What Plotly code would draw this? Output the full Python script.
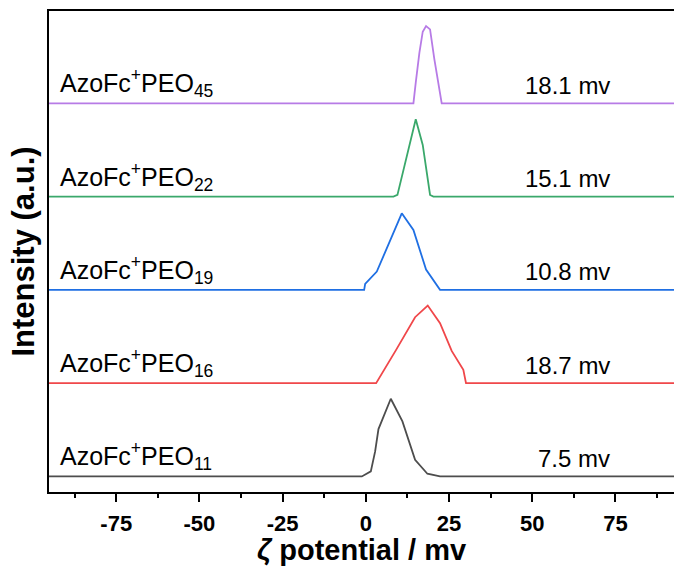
import plotly.graph_objects as go

# sample names and zeta potentials
names = ["AzoFc<sup>+</sup>PEO<sub>11</sub>", "AzoFc<sup>+</sup>PEO<sub>16</sub>",
         "AzoFc<sup>+</sup>PEO<sub>19</sub>", "AzoFc<sup>+</sup>PEO<sub>22</sub>",
         "AzoFc<sup>+</sup>PEO<sub>45</sub>"]
zeta_labels = ["7.5 mv", "18.7 mv", "10.8 mv", "15.1 mv", "18.1 mv"]
colors = ["#4d4d4d", "#f0474a", "#1f6fe3", "#3aa86b", "#b77be6"]

# distributions (x: zeta potential in mV, y: normalized intensity)
x_11 = [-100, -1.2, 1.5, 2.8, 3.8, 7.5, 11.0, 14.8, 18.5, 22.3, 100]
y_11 = [0, 0, 0.054, 0.268, 0.508, 0.833, 0.59, 0.179, 0.029, 0, 0]

x_16 = [-100, 3.1, 9.1, 14.8, 18.6, 22.3, 25.8, 29.3, 30.1, 100]
y_16 = [0, 0, 0.357, 0.707, 0.832, 0.643, 0.346, 0.143, 0, 0]

x_19 = [-100, -0.5, -0.2, 3.3, 10.8, 14.3, 18.1, 22.0, 22.3, 100]
y_19 = [0, 0, 0.064, 0.196, 0.821, 0.643, 0.218, 0.028, 0, 0]

x_22 = [-100, 8.3, 9.5, 15.0, 17.1, 19.3, 20.3, 100]
y_22 = [0, 0, 0.018, 0.83, 0.554, 0.018, 0, 0]

x_45 = [-100, 14.3, 15.0, 16.1, 17.1, 18.1, 19.3, 20.6, 22.8, 100]
y_45 = [0, 0, 0.222, 0.543, 0.768, 0.829, 0.793, 0.472, 0, 0]

xs = [x_11, x_16, x_19, x_22, x_45]
ys = [y_11, y_16, y_19, y_22, y_45]
offsets = [0, 1, 2, 3, 4]

tick_vals = [-75, -50, -25, 0, 25, 50, 75]

FONT = "Liberation Sans, Arial, sans-serif"

fig = go.Figure()
for xv, yv, off, c in zip(xs, ys, offsets, colors):
    fig.add_trace(go.Scatter(x=xv, y=[v + off for v in yv], mode="lines",
                             line=dict(color=c, width=1.8), showlegend=False,
                             hoverinfo="skip"))

annotations = []
for name, zl, off in zip(names, zeta_labels, offsets):
    annotations.append(dict(x=-92.5, y=off, xref="x", yref="y", text=name,
                            showarrow=False, xanchor="left", yanchor="middle",
                            yshift=20, font=dict(family=FONT, size=25, color="black")))
    annotations.append(dict(x=74.0, y=off, xref="x", yref="y", text=zl,
                            showarrow=False, xanchor="right", yanchor="middle",
                            yshift=18, font=dict(family=FONT, size=24, color="black")))

fig.update_layout(
    width=674, height=566,
    margin=dict(l=49, r=0, t=11, b=74),
    paper_bgcolor="white", plot_bgcolor="white",
    font=dict(family=FONT, color="black"),
    annotations=annotations,
    xaxis=dict(range=[-95.2, 92.6], tickvals=tick_vals,
               ticktext=[f"<b>{v}</b>" for v in tick_vals],
               ticks="outside", ticklen=8, tickwidth=1.5, tickcolor="black",
               ticklabelstandoff=3,
               minor=dict(dtick=12.5, tick0=0, ticks="outside", ticklen=4,
                          tickwidth=1.5, tickcolor="black"),
               showline=True, linecolor="black", linewidth=1.5, mirror=True,
               showgrid=False, zeroline=False,
               tickfont=dict(family=FONT, size=22, color="black"),
               title=dict(text="<b><i>ζ</i> potential / mv</b>",
                          font=dict(family=FONT, size=29, color="black"),
                          standoff=6)),
    yaxis=dict(range=[-0.167, 4.99], showticklabels=False, ticks="",
               showline=True, linecolor="black", linewidth=1.5, mirror=False,
               showgrid=False, zeroline=False,
               title=dict(text="<b>Intensity (a.u.)</b>",
                          font=dict(family=FONT, size=31, color="black"),
                          standoff=3)),
)

fig.write_html("out.html", config={"displayModeBar": False},
               post_script="document.body.style.margin='0';document.body.style.overflow='hidden';")
